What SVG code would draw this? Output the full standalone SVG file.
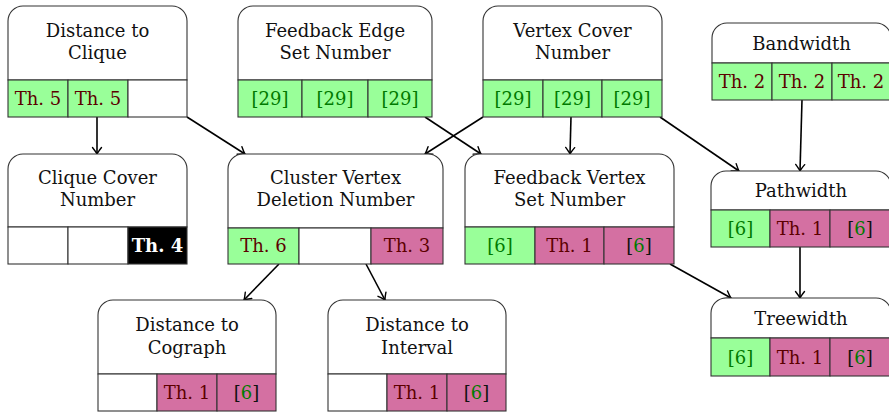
<svg xmlns="http://www.w3.org/2000/svg" width="889" height="413" viewBox="0 0 889 413">
<defs>
<marker id="arr" viewBox="-8 -6 10 12" markerWidth="10" markerHeight="12" refX="0" refY="0" orient="auto" markerUnits="userSpaceOnUse">
<path d="M-6.5,-4.5 Q-2,-1 0,0 Q-2,1 -6.5,4.5" fill="none" stroke="#000" stroke-width="1.4" stroke-linecap="round"/>
</marker>
</defs>
<style>
.hd{fill:#fff;stroke:#333;stroke-width:1.1}
.g{fill:#99ff99;stroke:#333;stroke-width:1.1}
.p{fill:#d470a2;stroke:#333;stroke-width:1.1}
.w{fill:#fff;stroke:#333;stroke-width:1.1}
.k{fill:#000;stroke:#333;stroke-width:1.1}
text{font-family:"DejaVu Serif","Liberation Serif",serif;font-size:18px;text-anchor:middle}
.t{fill:#111}
.th{fill:#5c0000}
.n{fill:#007a00}
.b{fill:#111}
.wb{fill:#fff;font-weight:bold}
.e{fill:none;stroke:#000;stroke-width:1.6;marker-end:url(#arr)}
</style>
<g id="connectors">
<path class="e" d="M97,117 V154"/>
<path class="e" d="M187,117 L245,154"/>
<path class="e" d="M425,117 L481,154"/>
<path class="e" d="M483,117 L425,154"/>
<path class="e" d="M571,117 L570,154"/>
<path class="e" d="M660,117 L739,171"/>
<path class="e" d="M802,100 L800,171"/>
<path class="e" d="M800,247 L800,298"/>
<path class="e" d="M670,264 L731,298"/>
<path class="e" d="M279,264 L244,300"/>
<path class="e" d="M366,264 L385,300"/>
</g>
<g id="distance-to-clique">
<path class="hd" d="M8,80 V21 A15,15 0 0 1 23,6 H172 A15,15 0 0 1 187,21 V80 Z"/>
<text class="t" x="97.5" y="37">Distance to</text>
<text class="t" x="97.5" y="59">Clique</text>
<rect class="g" x="8" y="80" width="60" height="37"/>
<rect class="g" x="68" y="80" width="60" height="37"/>
<rect class="w" x="128" y="80" width="59" height="37"/>
<text class="th" x="38" y="105">Th. 5</text>
<text class="th" x="98" y="105">Th. 5</text>
</g>
<g id="feedback-edge-set-number">
<path class="hd" d="M238,80 V21 A15,15 0 0 1 253,6 H417 A15,15 0 0 1 432,21 V80 Z"/>
<text class="t" x="335" y="37">Feedback Edge</text>
<text class="t" x="335" y="59">Set Number</text>
<rect class="g" x="238" y="80" width="64" height="37"/>
<rect class="g" x="302" y="80" width="66" height="37"/>
<rect class="g" x="368" y="80" width="64" height="37"/>
<text class="n" x="270" y="105">[29]</text>
<text class="n" x="335" y="105">[29]</text>
<text class="n" x="400" y="105">[29]</text>
</g>
<g id="vertex-cover-number">
<path class="hd" d="M483,80 V21 A15,15 0 0 1 498,6 H647 A15,15 0 0 1 662,21 V80 Z"/>
<text class="t" x="572.5" y="37">Vertex Cover</text>
<text class="t" x="572.5" y="59">Number</text>
<rect class="g" x="483" y="80" width="60" height="37"/>
<rect class="g" x="543" y="80" width="59" height="37"/>
<rect class="g" x="602" y="80" width="60" height="37"/>
<text class="n" x="513" y="105">[29]</text>
<text class="n" x="572.5" y="105">[29]</text>
<text class="n" x="632" y="105">[29]</text>
</g>
<g id="bandwidth">
<path class="hd" d="M712,63 V38 A15,15 0 0 1 727,23 H876 A15,15 0 0 1 891,38 V63 Z"/>
<text class="t" x="801.5" y="50">Bandwidth</text>
<rect class="g" x="712" y="63" width="60" height="37"/>
<rect class="g" x="772" y="63" width="60" height="37"/>
<rect class="g" x="832" y="63" width="59" height="37"/>
<text class="th" x="742" y="88">Th. 2</text>
<text class="th" x="802" y="88">Th. 2</text>
<text class="th" x="861" y="88">Th. 2</text>
</g>
<g id="clique-cover-number">
<path class="hd" d="M8,227 V169 A15,15 0 0 1 23,154 H172 A15,15 0 0 1 187,169 V227 Z"/>
<text class="t" x="97.5" y="184">Clique Cover</text>
<text class="t" x="97.5" y="206">Number</text>
<rect class="w" x="8" y="227" width="60" height="37"/>
<rect class="w" x="68" y="227" width="60" height="37"/>
<rect class="k" x="128" y="227" width="59" height="37"/>
<text class="wb" x="157.5" y="252">Th. 4</text>
</g>
<g id="cluster-vertex-deletion-number">
<path class="hd" d="M228,228 V169 A15,15 0 0 1 243,154 H428 A15,15 0 0 1 443,169 V228 Z"/>
<text class="t" x="335.5" y="184">Cluster Vertex</text>
<text class="t" x="335.5" y="206">Deletion Number</text>
<rect class="g" x="228" y="228" width="71" height="36"/>
<rect class="w" x="299" y="228" width="72" height="36"/>
<rect class="p" x="371" y="228" width="72" height="36"/>
<text class="th" x="263.5" y="252">Th. 6</text>
<text class="th" x="407" y="252">Th. 3</text>
</g>
<g id="feedback-vertex-set-number">
<path class="hd" d="M465,227 V169 A15,15 0 0 1 480,154 H659 A15,15 0 0 1 674,169 V227 Z"/>
<text class="t" x="569.5" y="184">Feedback Vertex</text>
<text class="t" x="569.5" y="206">Set Number</text>
<rect class="g" x="465" y="227" width="70" height="37"/>
<rect class="p" x="535" y="227" width="69" height="37"/>
<rect class="p" x="604" y="227" width="70" height="37"/>
<text class="n" x="500" y="252">[6]</text>
<text class="th" x="569.5" y="252">Th. 1</text>
<text class="b" x="639" y="252">[<tspan class="n">6</tspan>]</text>
</g>
<g id="pathwidth">
<path class="hd" d="M711,210 V186 A15,15 0 0 1 726,171 H876 A15,15 0 0 1 891,186 V210 Z"/>
<text class="t" x="801" y="197">Pathwidth</text>
<rect class="g" x="711" y="210" width="59" height="37"/>
<rect class="p" x="770" y="210" width="60" height="37"/>
<rect class="p" x="830" y="210" width="61" height="37"/>
<text class="n" x="740.5" y="235">[6]</text>
<text class="th" x="800" y="235">Th. 1</text>
<text class="b" x="860" y="235">[<tspan class="n">6</tspan>]</text>
</g>
<g id="distance-to-cograph">
<path class="hd" d="M98,374 V315 A15,15 0 0 1 113,300 H261 A15,15 0 0 1 276,315 V374 Z"/>
<text class="t" x="187" y="331">Distance to</text>
<text class="t" x="187" y="354">Cograph</text>
<rect class="w" x="98" y="374" width="59" height="37"/>
<rect class="p" x="157" y="374" width="60" height="37"/>
<rect class="p" x="217" y="374" width="59" height="37"/>
<text class="th" x="187" y="399">Th. 1</text>
<text class="b" x="246.5" y="399">[<tspan class="n">6</tspan>]</text>
</g>
<g id="distance-to-interval">
<path class="hd" d="M328,374 V315 A15,15 0 0 1 343,300 H491 A15,15 0 0 1 506,315 V374 Z"/>
<text class="t" x="417" y="331">Distance to</text>
<text class="t" x="417" y="354">Interval</text>
<rect class="w" x="328" y="374" width="59" height="37"/>
<rect class="p" x="387" y="374" width="60" height="37"/>
<rect class="p" x="447" y="374" width="59" height="37"/>
<text class="th" x="417" y="399">Th. 1</text>
<text class="b" x="476.5" y="399">[<tspan class="n">6</tspan>]</text>
</g>
<g id="treewidth">
<path class="hd" d="M711,338 V313 A15,15 0 0 1 726,298 H876 A15,15 0 0 1 891,313 V338 Z"/>
<text class="t" x="801" y="325">Treewidth</text>
<rect class="g" x="711" y="338" width="59" height="38"/>
<rect class="p" x="770" y="338" width="60" height="38"/>
<rect class="p" x="830" y="338" width="61" height="38"/>
<text class="n" x="740.5" y="364">[6]</text>
<text class="th" x="800" y="364">Th. 1</text>
<text class="b" x="860" y="364">[<tspan class="n">6</tspan>]</text>
</g>
</svg>
